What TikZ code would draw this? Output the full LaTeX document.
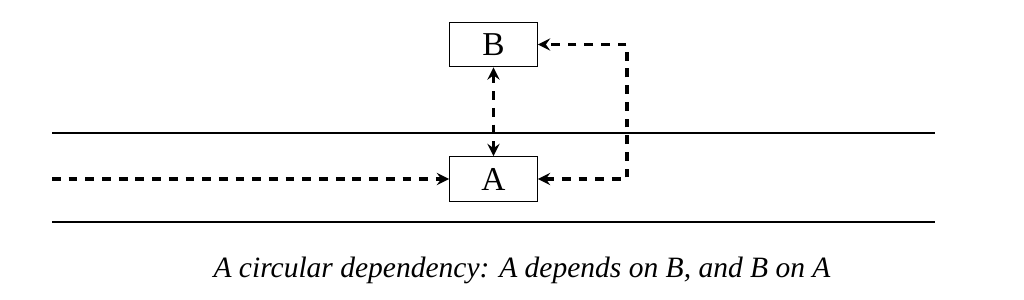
\documentclass[tikz,border=0pt]{standalone}
\usepackage{fontspec}
\setmainfont{Liberation Serif}
\usetikzlibrary{arrows.meta,positioning}
\tikzset{
  depbox/.style={draw, line width=0.6pt, minimum width=50pt, minimum height=25.5pt,
    inner sep=0pt, font=\fontsize{19}{21}\selectfont},
  dep/.style={{Stealth[length=7pt,width=7pt,inset=2.5pt]}-{Stealth[length=7pt,width=7pt,inset=2.5pt]},
    line width=1.9pt, dash pattern=on 5pt off 4.5pt},
  depone/.style={dep, -{Stealth[length=7pt,width=7pt,inset=2.5pt]}},
  rail/.style={line width=0.7pt},
  caption/.style={font=\fontsize{16.8}{19}\selectfont\itshape},
}
\begin{document}
\begin{tikzpicture}[x=0.02cm, y=-0.02cm]
  \useasboundingbox (0,0) rectangle (1024,300);
  % the two modules
  \node[depbox] (b) at (493.5,44.5) {B};
  \node[depbox] (a) at (493.5,179) {A};
  % layer rails
  \coordinate (topw) at (52,133);
  \coordinate (tope) at (935,133);
  \coordinate (botw) at (52,222);
  \coordinate (bote) at (935,222);
  \draw[rail] (topw) -- (tope);
  \draw[rail] (botw) -- (bote);
  % dependencies
  \coordinate (in) at (52,179);
  \coordinate (loop) at (627,110);
  \draw[depone] (in) -- (a.west);
  \draw[dep] (b.south) -- (a.north);
  \draw[dep] (a.east) -| (loop) |- (b.east);
  \node[caption] (cap) at (522,270) {A circular dependency: A depends on B, and B on A};
\end{tikzpicture}
\end{document}
